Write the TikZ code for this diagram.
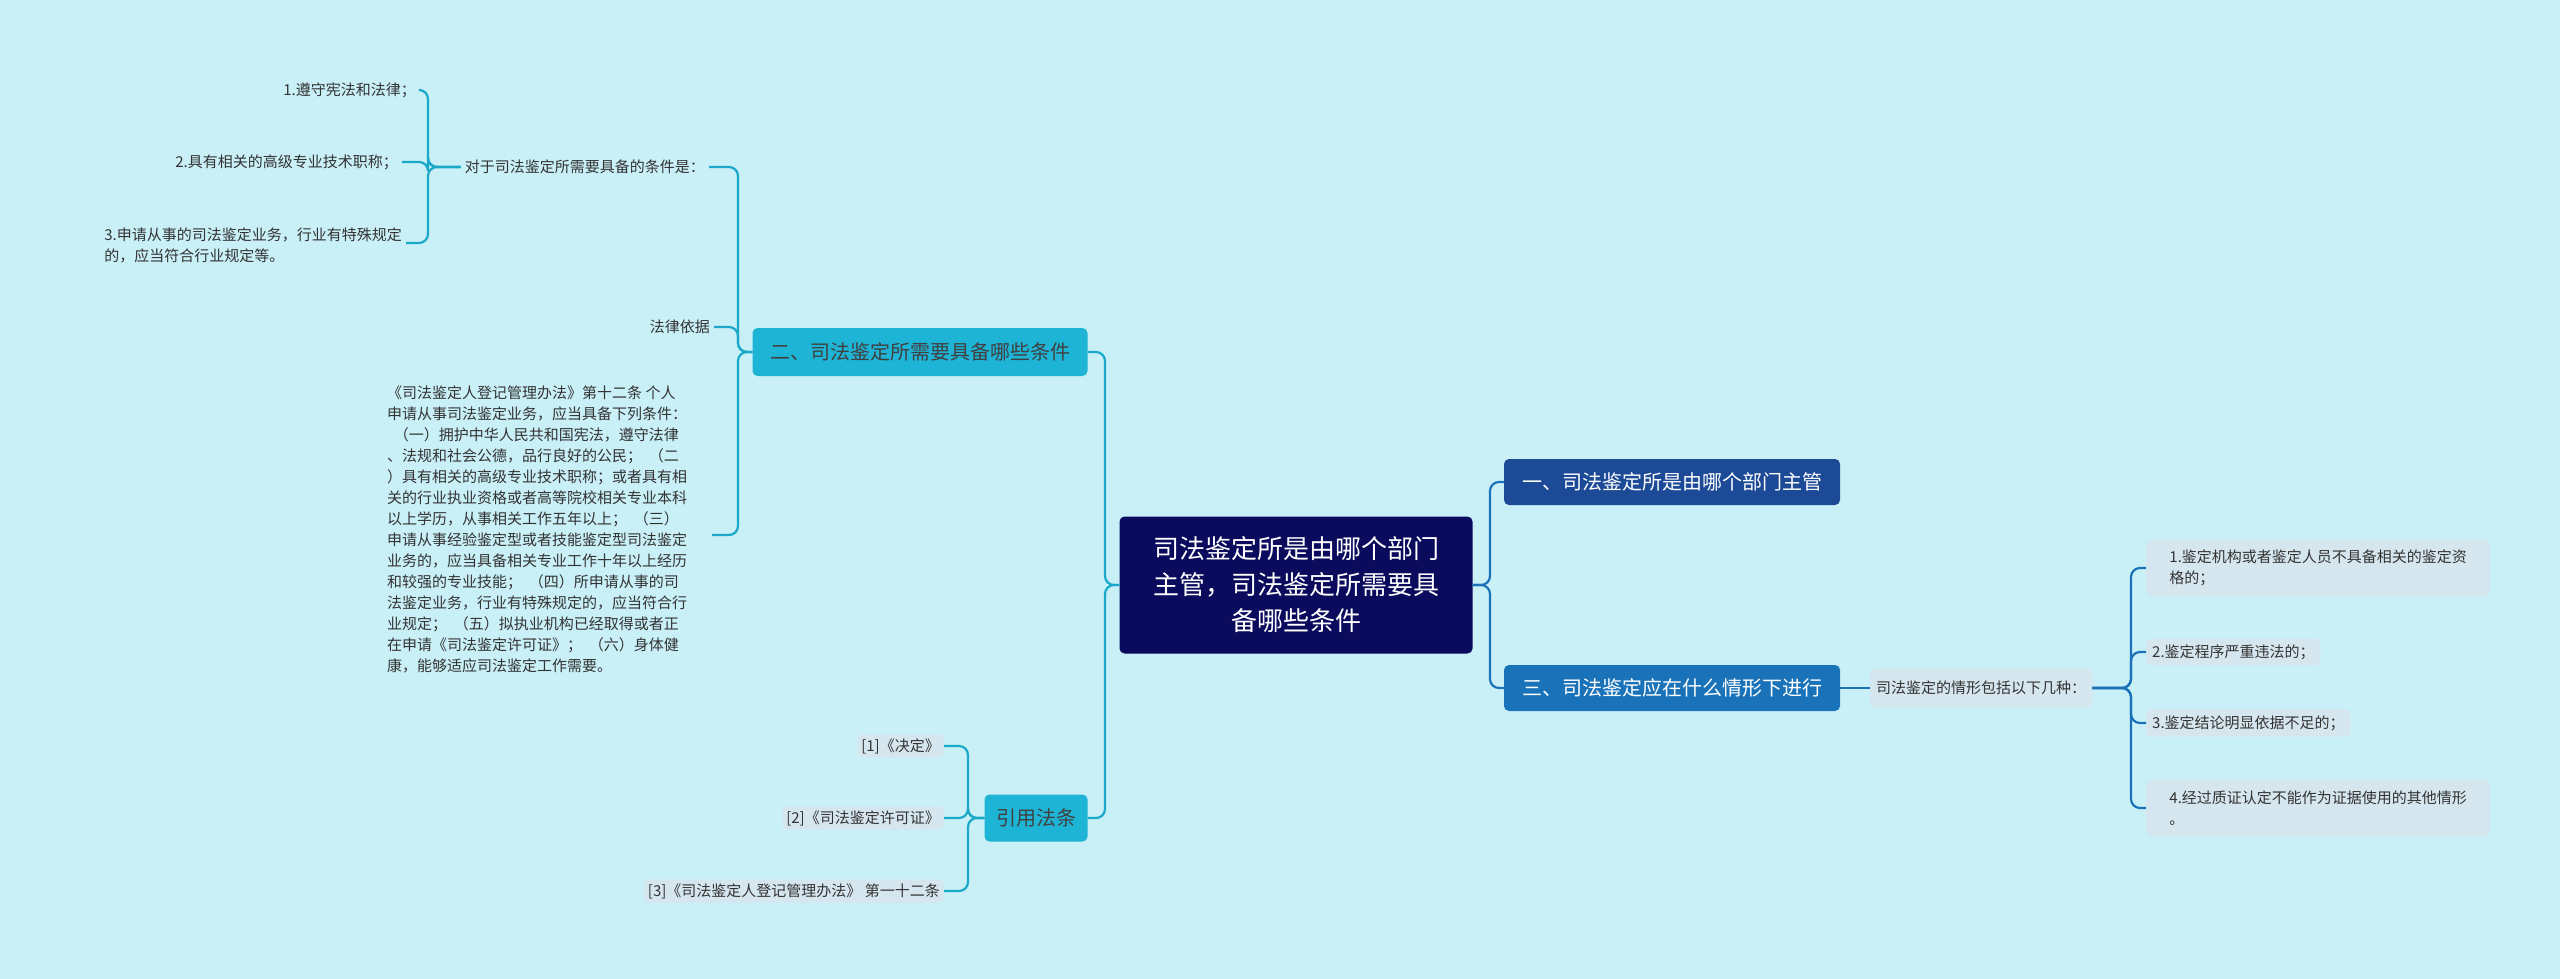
\documentclass[tikz,border=0pt]{standalone}
\usepackage{fontspec}
\setmainfont{Noto Sans CJK SC}
\definecolor{bgc}{HTML}{C9EFF7}
\definecolor{navy}{HTML}{0B0B5E}
\definecolor{dblue}{HTML}{1C4A96}
\definecolor{mblue}{HTML}{1A72B8}
\definecolor{cyanb}{HTML}{1EB4D6}
\definecolor{cyanl}{HTML}{1AA9C9}
\definecolor{leafc}{HTML}{D6E6EF}
\begin{document}
\begin{tikzpicture}[x=1pt,y=-1pt,
 cl/.style={draw=cyanl,line width=2.2pt,rounded corners=9pt},
 bl/.style={draw=mblue,line width=2.2pt,rounded corners=9pt},
 small/.style={font=\fontsize{15}{21}\selectfont,text=black!80,inner sep=4pt},
 leafbox/.style={small,fill=leafc,rounded corners=5pt,inner sep=6pt,anchor=west,align=left},
]
\fill[bgc] (0,0) rectangle (2560,979);
\useasboundingbox (0,0) rectangle (2560,979);
% center
\node[fill=navy,text=white,rounded corners=5pt,minimum width=353pt,minimum height=137pt,align=center,font=\fontsize{26}{36}\selectfont] (c) at (1296,585) {司法鉴定所是由哪个部门\\主管，司法鉴定所需要具\\备哪些条件};
\node[fill=dblue,text=white,rounded corners=5pt,minimum width=336pt,minimum height=46pt,font=\fontsize{20}{24}\selectfont] (r1) at (1672,482) {一、司法鉴定所是由哪个部门主管};
\node[fill=mblue,text=white,rounded corners=5pt,minimum width=336pt,minimum height=46pt,font=\fontsize{20}{24}\selectfont] (r3) at (1672,688) {三、司法鉴定应在什么情形下进行};
\node[leafbox,minimum height=39pt] (s) at (1870,688) {司法鉴定的情形包括以下几种：};
\node[leafbox,minimum width=344pt,minimum height=56pt] (a1) at (2146,568) {1.鉴定机构或者鉴定人员不具备相关的鉴定资\\格的；};
\node[leafbox] (a2) at (2146,652) {2.鉴定程序严重违法的；};
\node[leafbox] (a3) at (2146,723) {3.鉴定结论明显依据不足的；};
\node[leafbox,minimum width=344pt,minimum height=56pt] (a4) at (2146,808) {4.经过质证认定不能作为证据使用的其他情形\\。};
% left
\node[fill=cyanb,text=black!75,rounded corners=5pt,minimum width=335pt,minimum height=48pt,font=\fontsize{20}{24}\selectfont] (l2) at (920,352) {二、司法鉴定所需要具备哪些条件};
\node[fill=cyanb,text=black!75,rounded corners=5pt,minimum width=103pt,minimum height=47pt,font=\fontsize{20}{24}\selectfont] (lr) at (1036,818) {引用法条};
\node[small,anchor=east] (t1) at (709,167) {对于司法鉴定所需要具备的条件是：};
\node[small,anchor=east] (t2) at (714,327) {法律依据};
\node[small,anchor=north west,align=left,inner sep=0pt] (t3) at (387,386) {《司法鉴定人登记管理办法》第十二条 个人\\申请从事司法鉴定业务，应当具备下列条件：\\\ \ （一）拥护中华人民共和国宪法，遵守法律\\、法规和社会公德，品行良好的公民；\ \ （二\\）具有相关的高级专业技术职称；或者具有相\\关的行业执业资格或者高等院校相关专业本科\\以上学历，从事相关工作五年以上；\ \ （三）\\申请从事经验鉴定型或者技能鉴定型司法鉴定\\业务的，应当具备相关专业工作十年以上经历\\和较强的专业技能；\ \ （四）所申请从事的司\\法鉴定业务，行业有特殊规定的，应当符合行\\业规定；\ \ （五）拟执业机构已经取得或者正\\在申请《司法鉴定许可证》；\ \ （六）身体健\\康，能够适应司法鉴定工作需要。};
\node[small,anchor=east] (u1) at (420,90) {1.遵守宪法和法律；};
\node[small,anchor=east] (u2) at (402,162) {2.具有相关的高级专业技术职称；};
\node[small,anchor=east,align=left] (u3) at (406,245) {3.申请从事的司法鉴定业务，行业有特殊规定\\的，应当符合行业规定等。};
\node[leafbox,anchor=east,inner sep=4pt] (f1) at (944,746) {[1]《决定》};
\node[leafbox,anchor=east,inner sep=4pt] (f2) at (944,818) {[2]《司法鉴定许可证》};
\node[leafbox,anchor=east,inner sep=4pt] (f3) at (944,891) {[3]《司法鉴定人登记管理办法》 第一十二条};
% connectors right
\draw[bl] (c.east) -- (1490,585) |- (r1.west);
\draw[bl] (c.east) -- (1490,585) |- (r3.west);
\draw[bl] (r3.east) -- (s.west);
\foreach \n in {a1,a2,a3,a4} \draw[bl] (s.east) -- (2131,688) |- (\n.west);
% connectors left
\draw[cl] (c.west) -- (1105,585) |- (l2.east);
\draw[cl] (c.west) -- (1105,585) |- (lr.east);
\draw[cl] (l2.west) -- (738,352) |- (t1.east);
\draw[cl] (l2.west) -- (738,352) |- (t2.east);
\draw[cl] (l2.west) -- (738,352) |- (712,535);
\draw[cl] (t1.west) -- (428,167) |- (u1.east);
\draw[cl] (t1.west) -- (428,167) |- (u2.east);
\draw[cl] (t1.west) -- (428,167) |- (406,243);
\foreach \n in {f1,f2,f3} \draw[cl] (lr.west) -- (968,818) |- (\n.east);
\end{tikzpicture}
\end{document}
